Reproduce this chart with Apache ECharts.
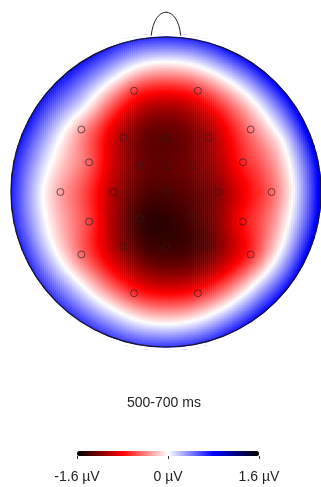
<!DOCTYPE html>
<html><head><meta charset="utf-8">
<script src="https://cdn.jsdelivr.net/npm/echarts@6/dist/echarts.min.js"></script>
<style>html,body{margin:0;padding:0;background:#fff}#c{width:321px;height:487px}</style>
</head><body><div id="c"></div>
<script>
// ---- data ----
const titleText = '500-700 ms';
const electrodes = ['Fp1','Fp2','F7','F3','Fz','F4','F8','FC5','FC1','FCz','FC2','FC6','T7','C3','Cz','C4','T8','CP5','CP1','CP2','CP6','P7','P3','Pz','P4','P8','O1','O2'];
// electrode positions (head radius = 1, nose up)
const elecX = [-0.206,0.206,-0.546,-0.275,0,0.275,0.546,-0.496,-0.169,0,0.169,0.496,-0.681,-0.341,0,0.341,0.681,-0.496,-0.169,0.169,0.496,-0.546,-0.275,0,0.275,0.546,-0.206,0.206];
const elecY = [0.645,0.645,0.398,0.346,0.346,0.346,0.398,0.189,0.168,0.168,0.168,0.189,0,0,0,0,0,-0.189,-0.168,-0.168,-0.189,-0.398,-0.346,-0.346,-0.346,-0.398,-0.645,-0.645];
// potential at each electrode (µV)
const elecV = [-0.62,-0.64,-0.30,-1.10,-1.30,-1.10,-0.42,-0.50,-1.25,-1.29,-1.22,-0.70,-0.28,-1.05,-1.35,-1.16,-0.49,-0.60,-1.41,-1.35,-0.77,-0.45,-1.19,-1.41,-1.29,-0.67,-0.65,-0.70];
// points of the white (0 µV) contour
const zeroX = [0.82,0.758,0.573,0.314,0,-0.306,-0.53,-0.702,-0.79,-0.739,-0.566,-0.314,0,0.318,0.58,0.758];
const zeroY = [0,0.314,0.573,0.758,0.83,0.739,0.53,0.291,0,-0.306,-0.566,-0.758,-0.84,-0.767,-0.58,-0.314];
// potential (every 22.5°, counter-clockwise from the right ear)
const rimX = [1,0.924,0.707,0.383,0,-0.383,-0.707,-0.924,-1,-0.924,-0.707,-0.383,0,0.383,0.707,0.924];
const rimY = [0,0.383,0.707,0.924,1,0.924,0.707,0.383,0,-0.383,-0.707,-0.924,-1,-0.924,-0.707,-0.383];
const rimV = [0.88,0.88,0.85,0.78,0.72,0.74,0.78,0.76,0.72,0.70,0.68,0.66,0.68,0.75,0.82,0.86];
const scaleMin = -1.6, scaleMax = 1.6;
const tickValues = [-1.6, 0, 1.6];
const unit = ' µV';

// ---- surface (thin-plate spline through the read values) ----
const PX = elecX.concat(zeroX, rimX), PY = elecY.concat(zeroY, rimY);
const PV = elecV.concat(zeroX.map(() => 0), rimV);
const n = PX.length, M = n + 3;
const phi = r => r < 1e-12 ? 0 : r * r * Math.log(r);
const A = [];
for (let i = 0; i < M; i++) A.push(new Array(M + 1).fill(0));
for (let i = 0; i < n; i++) {
  for (let j = 0; j < n; j++) A[i][j] = phi(Math.hypot(PX[i]-PX[j], PY[i]-PY[j]));
  A[i][n] = 1; A[i][n+1] = PX[i]; A[i][n+2] = PY[i]; A[i][M] = PV[i];
  A[n][i] = 1; A[n+1][i] = PX[i]; A[n+2][i] = PY[i];
}
for (let c = 0; c < M; c++) {
  let p = c;
  for (let r = c+1; r < M; r++) if (Math.abs(A[r][c]) > Math.abs(A[p][c])) p = r;
  [A[c], A[p]] = [A[p], A[c]];
  for (let r = 0; r < M; r++) {
    if (r === c) continue;
    const f = A[r][c] / A[c][c];
    if (f !== 0) for (let k = c; k <= M; k++) A[r][k] -= f * A[c][k];
  }
}
const W = A.map((row, i) => row[M] / row[i]);
function field(x, y) {
  let s = W[n] + W[n+1]*x + W[n+2]*y;
  for (let i = 0; i < n; i++) s += W[i] * phi(Math.hypot(x-PX[i], y-PY[i]));
  return s;
}
const N = 157;
const cats = Array.from({length: N}, (_, i) => i);
const cells = [];
for (let i = 0; i < N; i++) for (let j = 0; j < N; j++) {
  const x = -1 + (i + 0.5) * 2 / N, y = -1 + (j + 0.5) * 2 / N;
  if (x*x + y*y <= 1.004) cells.push([i, j, field(x, y)]);
}

const chart = echarts.init(document.getElementById('c'), null, {renderer: 'canvas'});
const headBox = {left: 11, top: 35, width: 314, height: 314};
const fontFam = '"Liberation Sans", Arial, sans-serif';
chart.setOption({
  animation: false,
  backgroundColor: '#fff',
  title: {text: titleText, left: 127, top: 396, padding: 0,
    textStyle: {fontSize: 14, fontWeight: 'normal', color: '#222', fontFamily: fontFam}},
  grid: [
    Object.assign({}, headBox),
    Object.assign({}, headBox),
    {left: 77, top: 451, width: 182, height: 5}
  ],
  xAxis: [
    {type: 'category', gridIndex: 0, data: cats, show: false},
    {type: 'value', gridIndex: 1, min: -1, max: 1, show: false},
    {type: 'value', gridIndex: 2, min: scaleMin, max: scaleMax, interval: 1.6,
      axisLine: {show: false}, splitLine: {show: false},
      axisTick: {show: true, length: 3, lineStyle: {color: '#333', width: 1}},
      axisLabel: {margin: 14, fontSize: 14, color: '#222', fontFamily: fontFam,
        formatter: v => v + unit}}
  ],
  yAxis: [
    {type: 'category', gridIndex: 0, data: cats, show: false},
    {type: 'value', gridIndex: 1, min: -1, max: 1, show: false},
    {type: 'value', gridIndex: 2, min: 0, max: 1, show: false}
  ],
  visualMap: {
    type: 'continuous', min: scaleMin, max: scaleMax, seriesIndex: 0,
    orient: 'horizontal', left: 77, top: 451, itemWidth: 5, itemHeight: 182,
    padding: 0, calculable: false, text: null, showLabel: false,
    inRange: {color: ['#000000', '#ff0000', '#ffffff', '#0000ff', '#000000']}
  },
  series: [
    {type: 'heatmap', xAxisIndex: 0, yAxisIndex: 0, data: cells, progressive: 0,
      itemStyle: {borderWidth: 0}, emphasis: {disabled: true}, silent: true},
    {type: 'scatter', xAxisIndex: 1, yAxisIndex: 1, name: 'electrodes',
      data: elecX.map((x, i) => [x, elecY[i], electrodes[i]]),
      symbol: 'circle', symbolSize: 7, silent: true, z: 5,
      itemStyle: {color: 'rgba(0,0,0,0)', borderColor: 'rgba(40,30,30,0.85)', borderWidth: 1}}
  ]
});

// head outline and nose, placed through the overlay axes
const c0 = chart.convertToPixel({xAxisIndex: 1, yAxisIndex: 1}, [0, 0]);
const c1 = chart.convertToPixel({xAxisIndex: 1, yAxisIndex: 1}, [1, 0]);
const R = c1[0] - c0[0];
const P = (x, y) => chart.convertToPixel({xAxisIndex: 1, yAxisIndex: 1}, [x, y]);
const nb = 0.0955, ny = Math.sqrt(1 - nb*nb);
const nL = P(-nb, ny), nR = P(nb, ny), cL = P(-0.075, 1.195), cR = P(0.075, 1.195);
chart.setOption({
  graphic: [
    {type: 'circle', shape: {cx: c0[0], cy: c0[1], r: R + 2.2}, style: {fill: null, stroke: '#fff', lineWidth: 3}, z: 10, silent: true},
    {type: 'circle', shape: {cx: c0[0], cy: c0[1], r: R}, style: {fill: null, stroke: '#15152a', lineWidth: 1.2}, z: 11, silent: true},
    {type: 'bezierCurve', shape: {x1: nL[0], y1: nL[1], cpx1: cL[0], cpy1: cL[1], cpx2: cR[0], cpy2: cR[1], x2: nR[0], y2: nR[1]},
      style: {fill: null, stroke: '#222', lineWidth: 1}, z: 11, silent: true}
  ]
});
</script></body></html>
